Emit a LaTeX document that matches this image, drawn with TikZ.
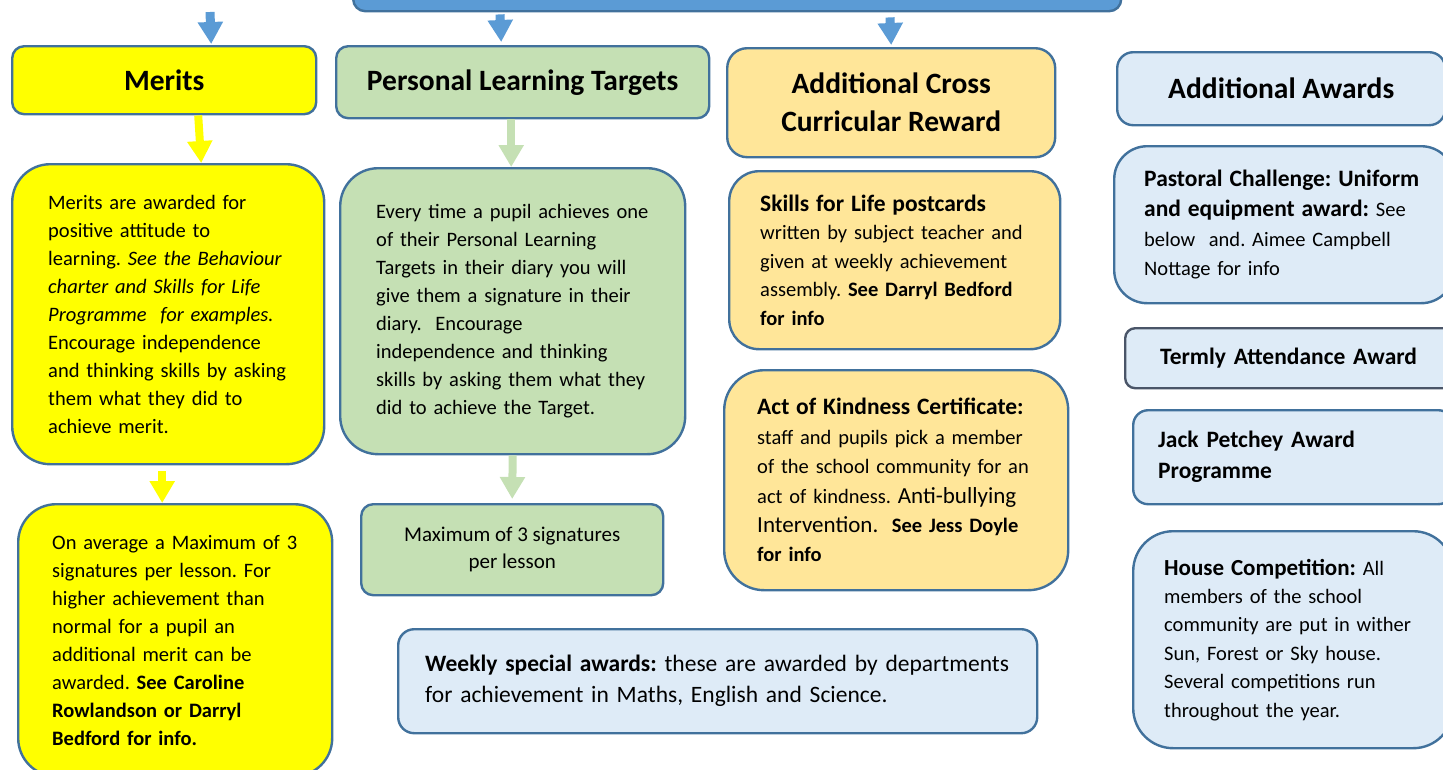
\documentclass[tikz,border=0pt]{standalone}
\usepackage{fontspec}
\setmainfont{Carlito}
\usetikzlibrary{arrows.meta,positioning}

\definecolor{edge}{RGB}{65,113,156}
\definecolor{slate}{RGB}{74,85,104}
\definecolor{barblue}{RGB}{91,155,213}
\definecolor{meritfill}{RGB}{255,255,0}
\definecolor{pltfill}{RGB}{197,224,180}
\definecolor{crossfill}{RGB}{255,230,153}
\definecolor{awardfill}{RGB}{222,235,247}

\begin{document}
\frenchspacing
\begin{tikzpicture}[x=1pt,y=-1pt,
     % define styles
     card/.style={
         draw=edge,
         line width=2.4pt,
         rounded corners=#1,
         anchor=north west,
         align=left,
         inner ysep=0pt,
         font=\fontsize{20.5}{28}\selectfont
     },
     card/.default=38pt,
     head/.style={
         card=#1,
         align=center,
         inner sep=0pt,
         font=\fontsize{29.5}{38}\selectfont\bfseries
     },
     head/.default=12pt,
     flow/.style={
         -{Triangle[width=24pt,length=22pt]},
         line width=9pt
     }
]
\useasboundingbox (0,0) rectangle (1443,769);
\clip (0,0) rectangle (1443,769);

% top bar and header boxes
\node[head, fill=barblue, minimum width=768pt, minimum height=50pt] (bar) at (352,-40) {};
\node[head, fill=meritfill, minimum width=304pt, minimum height=68pt] (merits) at (11,45) {Merits};
\node[head, fill=pltfill, minimum width=373pt, minimum height=72pt] (plt) at (335,45) {Personal Learning Targets};
\node[head=20pt, fill=crossfill, minimum width=328pt, minimum height=109pt] (cross) at (726,47) {Additional Cross\\Curricular Reward};
\node[head=16pt, fill=awardfill, minimum width=328pt, minimum height=73pt] (awards) at (1116,51) {Additional Awards};

% merits column
\node[card, fill=meritfill, minimum width=312pt, minimum height=300pt, text width=240pt, inner xsep=36pt] (meritsbody) at (11,163)
  {Merits are awarded for\\ positive attitude to\\ learning. \textit{See the Behaviour}\\ \textit{charter and Skills for Life}\\ \textit{Programme\ \ for examples.}\\ Encourage independence\\ and thinking skills by asking\\ them what they did to\\ achieve merit.};
\node[card, fill=meritfill, minimum width=314pt, minimum height=272pt, text width=250pt, inner xsep=32pt] (meritsmore) at (17,503)
  {\hspace*{2pt}On average a Maximum of 3\\ \hspace*{2pt}signatures per lesson. For\\ \hspace*{2pt}higher achievement than\\ \hspace*{2pt}normal for a pupil an\\ \hspace*{2pt}additional merit can be\\ \hspace*{2pt}awarded. \textbf{See Caroline}\\ \hspace*{2pt}\textbf{Rowlandson or Darryl}\\ \hspace*{2pt}\textbf{Bedford for info.}};

% targets column
\node[card, fill=pltfill, minimum width=345pt, minimum height=286pt, text width=273pt, inner xsep=36pt] (pltbody) at (339,167)
  {Every time a pupil achieves one\\ of their Personal Learning\\ Targets in their diary you will\\ give them a signature in their\\ diary.\ \ Encourage\\ independence and thinking\\ skills by asking them what they\\ did to achieve the Target.};
\node[card=12pt, fill=pltfill, align=center, minimum width=302pt, minimum height=91pt, font=\fontsize{21}{27}\selectfont] (maxsig) at (360,503)
  {Maximum of 3 signatures\\ per lesson};

% cross curricular column
\node[card=30pt, fill=crossfill, minimum width=331pt, minimum height=178pt, text width=269pt, inner xsep=31pt, font=\fontsize{20.5}{28.5}\selectfont] (skills) at (728,170)
  {{\fontsize{23.5}{28.5}\selectfont\bfseries Skills for Life postcards}\\ written by subject teacher and\\ given at weekly achievement\\ assembly. \textbf{See Darryl Bedford}\\ \textbf{for info}};
\node[card=40pt, fill=crossfill, minimum width=344pt, minimum height=220pt, text width=278pt, inner xsep=33pt, font=\fontsize{20.5}{29.4}\selectfont] (kindness) at (723,369)
  {{\fontsize{23.5}{29.4}\selectfont\bfseries Act of Kindness Certificate:}\\ staff and pupils pick a member\\ of the school community for an\\ act of kindness. {\fontsize{23}{29.4}\selectfont Anti-bullying}\\ {\fontsize{23}{29.4}\selectfont Intervention.}\ \ \textbf{See Jess Doyle}\\ \textbf{for info}};
\node[card=16pt, fill=awardfill, minimum width=639pt, minimum height=104pt, text width=585pt, inner xsep=27pt, font=\fontsize{23.5}{31}\selectfont] (weekly) at (397,628)
  {\textbf{Weekly special awards:} these are awarded by departments\\ for achievement in Maths, English and Science.};

% additional awards column
\node[card=33pt, fill=awardfill, minimum width=340pt, minimum height=157pt, text width=280pt, inner xsep=30pt, font=\fontsize{20.5}{29.7}\selectfont] (pastoral) at (1113,145)
  {{\fontsize{23.5}{29.7}\selectfont\bfseries Pastoral Challenge: Uniform}\\ {\fontsize{23.5}{29.7}\selectfont\bfseries and equipment award:} See\\ below\ \ and. Aimee Campbell\\ Nottage for info};
\node[card=10pt, draw=slate, fill=awardfill, minimum width=330pt, minimum height=60pt, text width=270pt, inner xsep=30pt, font=\fontsize{23.5}{28}\selectfont\bfseries] (termly) at (1124,327)
  {\hspace*{5pt}Termly Attendance Award};
\node[card=15pt, fill=awardfill, minimum width=320pt, minimum height=94pt, text width=270pt, inner xsep=25pt, font=\fontsize{23.5}{31}\selectfont\bfseries] (jack) at (1132,409)
  {Jack Petchey Award\\ Programme};
\node[card=40pt, fill=awardfill, minimum width=320pt, minimum height=217pt, text width=258pt, inner xsep=31pt, font=\fontsize{20.5}{28.4}\selectfont] (house) at (1132,530)
  {{\fontsize{23}{28.4}\selectfont\bfseries House Competition:} All\\ members of the school\\ community are put in wither\\ Sun, Forest or Sky house.\\ Several competitions run\\ throughout the year.};

% arrows
\coordinate (barleft) at (210,12);
\draw[flow, barblue] (barleft) -- ([xshift=47pt,yshift=1pt]merits.north);
\draw[flow, barblue] ([yshift=-2pt]bar.south -| 500,0) -- ([xshift=-21.5pt,yshift=3pt]plt.north);
\draw[flow, barblue] ([yshift=-5pt]bar.south -| 890,0) -- ([yshift=2pt]cross.north);
\draw[flow, meritfill, line width=8pt] ([xshift=34pt]merits.south) -- ([xshift=33pt]meritsbody.north);
\draw[flow, meritfill, line width=8pt] ([xshift=-6pt,yshift=-6pt]meritsbody.south) -- ([xshift=-13pt]meritsmore.north);
\draw[flow, pltfill, line width=8pt] ([xshift=-11.5pt]plt.south) -- ([xshift=-1.5pt]pltbody.north);
\draw[flow, pltfill, line width=8pt] (pltbody.south) -- ([yshift=4pt]maxsig.north);
\end{tikzpicture}
\end{document}
